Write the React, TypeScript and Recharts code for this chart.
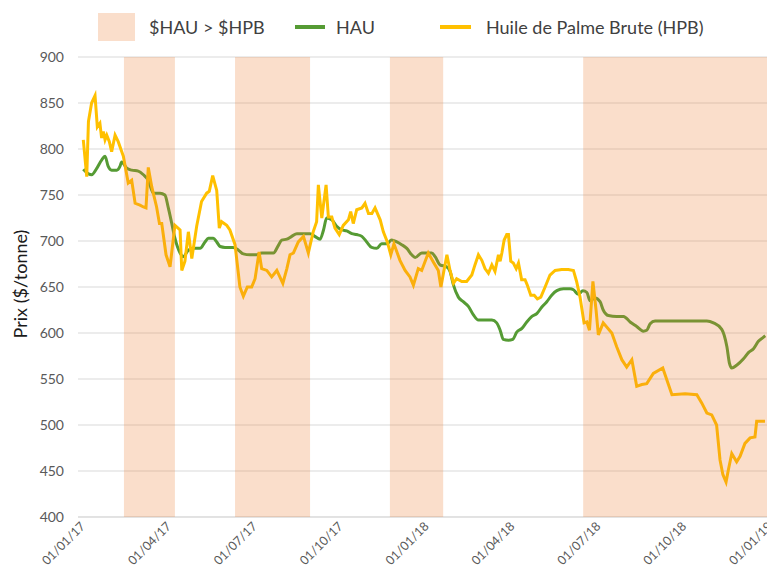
import { LineChart, Line, XAxis, YAxis, CartesianGrid, ReferenceArea, Label } from "recharts";

// x values are months after 01/01/17
const tickMonths = [0, 3, 6, 9, 12, 15, 18, 21, 24];
const tickLabels = ["01/01/17", "01/04/17", "01/07/17", "01/10/17", "01/01/18", "01/04/18", "01/07/18", "01/10/18", "01/01/19"];
const yTicks = [400, 450, 500, 550, 600, 650, 700, 750, 800, 850, 900];

// periods where $HAU > $HPB
const shadeStart = [1.43, 5.31, 10.72, 17.47];
const shadeEnd = [3.21, 7.93, 12.58, 24.17];

const hauMonths = [
  0.01, 0.19, 0.3, 0.48, 0.65, 0.77, 0.88, 1.0, 1.18, 1.29, 1.35, 1.53, 1.7, 1.93, 2.11, 2.28, 2.46, 2.69, 2.86, 2.98,
  3.1, 3.21, 3.39, 3.5, 3.68, 3.85, 4.09, 4.26, 4.38, 4.55, 4.67, 4.79, 4.96, 5.25, 5.43, 5.6, 5.83, 6.07, 6.24, 6.65,
  6.82, 6.94, 7.12, 7.29, 7.47, 7.7, 7.93, 8.1, 8.28, 8.4, 8.51, 8.69, 8.86, 9.04, 9.21, 9.39, 9.56, 9.74, 9.91, 10.08,
  10.26, 10.43, 10.61, 10.78, 10.96, 11.13, 11.31, 11.48, 11.6, 11.83, 12.18, 12.3, 12.47, 12.7, 12.82, 12.94, 13.11,
  13.28, 13.46, 13.63, 13.81, 14.04, 14.28, 14.45, 14.57, 14.68, 14.86, 15.01, 15.15, 15.33, 15.5, 15.68, 15.85, 16.02,
  16.2, 16.37, 16.55, 16.78, 17.01, 17.13, 17.3, 17.46, 17.6, 17.71, 17.88, 18.06, 18.17, 18.35, 18.64, 18.88, 19.11,
  19.34, 19.57, 19.69, 19.81, 19.98, 20.39, 20.86, 21.32, 21.79, 22.02, 22.31, 22.49, 22.58, 22.66, 22.83, 23.07, 23.25,
  23.42, 23.59, 23.75, 23.83,
];
const hauPrices = [
  778, 773, 772, 779, 788, 792, 781, 777, 777, 781, 786, 779, 777, 776, 772, 766, 752, 752, 750, 736,
  719, 703, 687, 683, 690, 692, 692, 699, 703, 703, 699, 694, 693, 693, 690, 686, 685, 685, 687, 687,
  695, 701, 702, 705, 708, 708, 708, 705, 702, 712, 725, 723, 716, 712, 711, 708, 707, 705, 699, 693,
  692, 697, 697, 701, 699, 696, 692, 685, 682, 687, 687, 683, 674, 672, 667, 652, 639,
  634, 629, 620, 614, 614, 614, 611, 603, 593, 592, 593, 601, 605, 612, 618, 621, 628,
  634, 641, 646, 648, 648, 647, 642, 646, 644, 635, 638, 634, 625, 619, 618, 618, 612,
  607, 602, 603, 610, 613, 613, 613, 613, 613, 611, 604, 585, 567, 562, 565, 572, 579,
  583, 591, 595, 597,
];

const hpbMonths = [
  0.01, 0.13, 0.19, 0.3, 0.42, 0.5, 0.59, 0.65, 0.71, 0.77, 0.83, 0.92, 1.0, 1.12, 1.23, 1.41, 1.58, 1.7, 1.82, 1.99,
  2.11, 2.2, 2.28, 2.4, 2.57, 2.67, 2.75, 2.9, 3.04, 3.21, 3.39, 3.45, 3.56, 3.68, 3.8, 3.97, 4.14, 4.32, 4.41, 4.53,
  4.67, 4.76, 4.84, 5.02, 5.13, 5.31, 5.48, 5.6, 5.74, 5.89, 6.01, 6.15, 6.24, 6.42, 6.59, 6.77, 6.98, 7.12, 7.23, 7.35,
  7.52, 7.7, 7.87, 8.04, 8.16, 8.22, 8.34, 8.49, 8.57, 8.69, 8.8, 8.95, 9.09, 9.27, 9.35, 9.44, 9.56, 9.74, 9.85, 9.97,
  10.09, 10.2, 10.38, 10.49, 10.63, 10.75, 10.86, 11.07, 11.25, 11.42, 11.54, 11.71, 11.83, 12.06, 12.24, 12.41, 12.5,
  12.59, 12.71, 12.82, 12.94, 13.05, 13.23, 13.4, 13.58, 13.69, 13.81, 13.93, 14.04, 14.16, 14.28, 14.39, 14.51, 14.57,
  14.63, 14.71, 14.8, 14.86, 14.94, 15.03, 15.13, 15.21, 15.32, 15.44, 15.52, 15.64, 15.76, 15.87, 15.99, 16.14, 16.31,
  16.49, 16.72, 16.95, 17.13, 17.24, 17.36, 17.5, 17.6, 17.69, 17.81, 17.92, 18.0, 18.17, 18.47, 18.64, 18.82, 18.99,
  19.17, 19.34, 19.52, 19.69, 19.92, 20.25, 20.57, 21.03, 21.44, 21.61, 21.79, 21.96, 22.13, 22.25, 22.35, 22.46, 22.54,
  22.66, 22.83, 22.95, 23.12, 23.3, 23.47, 23.53, 23.82,
];
const hpbPrices = [
  810, 770, 830, 850, 858, 824, 828, 812, 819, 810, 815, 808, 797, 815, 808, 792, 763, 766, 741, 739,
  737, 736, 780, 759, 737, 719, 719, 685, 672, 717, 712, 668, 678, 710, 681, 716, 743, 752, 754, 771,
  755, 714, 721, 717, 712, 696, 650, 640, 650, 650, 659, 688, 670, 668, 661, 668, 654, 670, 685, 687,
  699, 705, 687, 710, 721, 761, 725, 761, 726, 726, 714, 707, 717, 723, 732, 719, 734, 736, 741, 730,
  730, 736, 723, 710, 699, 685, 697, 679, 668, 661, 652, 670, 668, 687, 677, 668, 650,
  665, 685, 668, 654, 659, 656, 656, 663, 674, 685, 679, 670, 665, 674, 667, 685, 678,
  687, 701, 707, 707, 678, 676, 670, 676, 658, 658, 652, 641, 641, 637, 639, 650, 663,
  668, 669, 669, 668, 656, 639, 611, 612, 603, 656, 625, 598, 611, 600, 585, 571, 563,
  571, 542, 544, 545, 556, 562, 533, 534, 533, 524, 513, 511, 500, 462, 446, 438, 451,
  469, 460, 466, 480, 486, 487, 504, 504,
];

const hauData = hauMonths.map((m, i) => ({ m, price: hauPrices[i] }));
const hpbData = hpbMonths.map((m, i) => ({ m, price: hpbPrices[i] }));

const GREEN = "#559B34";
const GOLD = "#FFC000";
const SHADE = "#ED7D31";
const FONT = "Lato, 'Open Sans', sans-serif";
const W = 780;
const H = 570;
const MARGIN = { top: 57, right: 5, bottom: 0, left: 0 };
const X_DOMAIN = [-0.175, 24.17];

function XTick(props: any) {
  const { x, y, payload } = props;
  const label = tickLabels[tickMonths.indexOf(payload.value)];
  const ax = x + 3;
  const ay = y + 10;
  return (
    <text x={ax} y={ay} transform={`rotate(-45 ${ax} ${ay})`} textAnchor="end" fontSize={12.5} fill="#595959" fontFamily={FONT}>
      {label}
    </text>
  );
}

function YTitle(props: any) {
  const vb = props.viewBox;
  const cx = 20;
  const cy = vb.y + vb.height / 2 - 3;
  return (
    <text x={cx} y={cy} transform={`rotate(-90 ${cx} ${cy})`} textAnchor="middle" dominantBaseline="central" fontSize={18} fill="#1a1a1a" fontFamily={FONT}>
      Prix ($/tonne)
    </text>
  );
}

function ChartLegend() {
  const text = { position: "absolute" as const, top: 14, fontSize: 18, color: "#404040", lineHeight: "26px" };
  return (
    <div style={{ position: "absolute", left: 0, top: 0, width: 767, height: 50, fontFamily: FONT }}>
      <div style={{ position: "absolute", left: 98, top: 13, width: 37, height: 28, background: SHADE, opacity: 0.25 }} />
      <span style={{ ...text, left: 149 }}>$HAU &gt; $HPB</span>
      <div style={{ position: "absolute", left: 295, top: 25, width: 30, height: 4, background: GREEN }} />
      <span style={{ ...text, left: 336 }}>HAU</span>
      <div style={{ position: "absolute", left: 440, top: 25, width: 31, height: 4, background: GOLD }} />
      <span style={{ ...text, left: 486 }}>Huile de Palme Brute (HPB)</span>
    </div>
  );
}

export default function App() {
  const layer = { position: "absolute" as const, left: 0, top: 0 };
  return (
    <div style={{ position: "absolute", left: 0, top: 0, width: 767, height: 570, overflow: "hidden", background: "#fff" }}>
      <div style={layer}>
        <LineChart width={W} height={H} margin={MARGIN}>
          <CartesianGrid vertical={false} stroke="#D9D9D9" />
          <XAxis
            dataKey="m"
            type="number"
            domain={X_DOMAIN}
            allowDataOverflow
            ticks={tickMonths}
            tick={<XTick />}
            tickLine={false}
            tickSize={0}
            tickMargin={0}
            axisLine={{ stroke: "#D9D9D9" }}
            height={53}
          />
          <YAxis
            type="number"
            domain={[400, 900]}
            ticks={yTicks}
            width={78}
            axisLine={false}
            tickLine={false}
            tickSize={0}
            tickMargin={14}
            tick={{ fontSize: 14, fill: "#595959", fontFamily: FONT }}
          >
            <Label content={<YTitle />} />
          </YAxis>
          <Line data={hauData} dataKey="price" type="monotone" stroke={GREEN} strokeWidth={3} dot={false} activeDot={false} isAnimationActive={false} />
          <Line data={hpbData} dataKey="price" type="linear" stroke={GOLD} strokeWidth={3} dot={false} activeDot={false} isAnimationActive={false} />
        </LineChart>
      </div>
      {/* translucent shading drawn over the lines, same scales */}
      <div style={{ ...layer, pointerEvents: "none" }}>
        <LineChart width={W} height={H} margin={MARGIN} style={{ background: "transparent" }}>
          <XAxis dataKey="m" type="number" domain={X_DOMAIN} allowDataOverflow ticks={tickMonths} tick={false} tickLine={false} axisLine={false} height={53} />
          <YAxis type="number" domain={[400, 900]} ticks={yTicks} width={78} tick={false} tickLine={false} axisLine={false} />
          <Line data={hauData} dataKey="price" stroke="none" dot={false} activeDot={false} isAnimationActive={false} />
          {shadeStart.map((s, i) => (
            <ReferenceArea key={i} x1={s} x2={shadeEnd[i]} y1={400} y2={900} fill={SHADE} fillOpacity={0.25} stroke="none" ifOverflow="hidden" />
          ))}
        </LineChart>
      </div>
      <ChartLegend />
    </div>
  );
}
